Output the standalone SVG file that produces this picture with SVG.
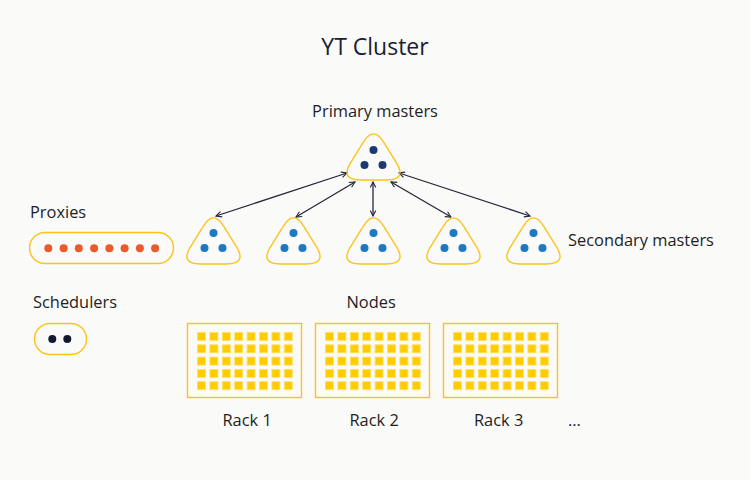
<svg xmlns="http://www.w3.org/2000/svg" xmlns:xlink="http://www.w3.org/1999/xlink" width="750" height="480" viewBox="0 0 750 480">
<style>
text{font-family:"Open Sans","Noto Sans",sans-serif;fill:#1e1e24;font-size:16.4px}
.title{font-size:23px;fill:#1b1d33}
.outline{fill:none;stroke:#fcc419;stroke-width:1.4}
.blue{fill:#1f78c4}
.navy{fill:#1d3a6e}
.orange{fill:#ec5a2a}
.black{fill:#141a2e}
.sq{fill:#ffcc00;stroke:#ffdf66;stroke-width:0.8}
.conn{stroke:#25273a;stroke-width:1.3;fill:none;marker-start:url(#ah);marker-end:url(#ah)}
</style>
<defs>
<marker id="ah" viewBox="0 0 10 10" refX="9" refY="5" markerWidth="7" markerHeight="7" markerUnits="userSpaceOnUse" orient="auto-start-reverse">
<path d="M1,1 L9,5 L1,9" fill="none" stroke="#25273a" stroke-width="1.6"/>
</marker>
<path id="tri" d="M-13,0 L13,0 Q33.5,0 23,-17.1 L10.6,-37.2 Q0,-55 -10.6,-37.2 L-23,-17.1 Q-33.5,0 -13,0 Z"/>
<g id="rack">
<rect class="outline" x="0" y="0" width="114" height="74"/>
<g class="sq">
<rect x="10" y="9" width="8" height="8"/><rect x="22.4" y="9" width="8" height="8"/><rect x="34.8" y="9" width="8" height="8"/><rect x="47.2" y="9" width="8" height="8"/><rect x="59.6" y="9" width="8" height="8"/><rect x="72" y="9" width="8" height="8"/><rect x="84.4" y="9" width="8" height="8"/><rect x="96.8" y="9" width="8" height="8"/>
<rect x="10" y="21.3" width="8" height="8"/><rect x="22.4" y="21.3" width="8" height="8"/><rect x="34.8" y="21.3" width="8" height="8"/><rect x="47.2" y="21.3" width="8" height="8"/><rect x="59.6" y="21.3" width="8" height="8"/><rect x="72" y="21.3" width="8" height="8"/><rect x="84.4" y="21.3" width="8" height="8"/><rect x="96.8" y="21.3" width="8" height="8"/>
<rect x="10" y="33.6" width="8" height="8"/><rect x="22.4" y="33.6" width="8" height="8"/><rect x="34.8" y="33.6" width="8" height="8"/><rect x="47.2" y="33.6" width="8" height="8"/><rect x="59.6" y="33.6" width="8" height="8"/><rect x="72" y="33.6" width="8" height="8"/><rect x="84.4" y="33.6" width="8" height="8"/><rect x="96.8" y="33.6" width="8" height="8"/>
<rect x="10" y="45.9" width="8" height="8"/><rect x="22.4" y="45.9" width="8" height="8"/><rect x="34.8" y="45.9" width="8" height="8"/><rect x="47.2" y="45.9" width="8" height="8"/><rect x="59.6" y="45.9" width="8" height="8"/><rect x="72" y="45.9" width="8" height="8"/><rect x="84.4" y="45.9" width="8" height="8"/><rect x="96.8" y="45.9" width="8" height="8"/>
<rect x="10" y="58.2" width="8" height="8"/><rect x="22.4" y="58.2" width="8" height="8"/><rect x="34.8" y="58.2" width="8" height="8"/><rect x="47.2" y="58.2" width="8" height="8"/><rect x="59.6" y="58.2" width="8" height="8"/><rect x="72" y="58.2" width="8" height="8"/><rect x="84.4" y="58.2" width="8" height="8"/><rect x="96.8" y="58.2" width="8" height="8"/>
</g>
</g>
<g id="sec">
<use href="#tri" class="outline"/>
<circle class="blue" cx="0" cy="-31" r="4"/>
<circle class="blue" cx="-9" cy="-16" r="4"/>
<circle class="blue" cx="9" cy="-16" r="4"/>
</g>
</defs>
<rect width="750" height="480" fill="#fafaf9"/>
<text class="title" x="375" y="54.5" text-anchor="middle">YT Cluster</text>

<g id="connectors">
<line class="conn" x1="347" y1="173" x2="216" y2="216"/>
<line class="conn" x1="355" y1="182" x2="296" y2="217"/>
<line class="conn" x1="373" y1="182" x2="373" y2="216"/>
<line class="conn" x1="391" y1="182" x2="451" y2="217"/>
<line class="conn" x1="399" y1="173" x2="530" y2="216"/>
</g>

<g id="primary-masters">
<text x="375" y="116.5" text-anchor="middle">Primary masters</text>
<g transform="translate(373.5,180)">
<use href="#tri" class="outline"/>
<circle class="navy" cx="0" cy="-30" r="4"/>
<circle class="navy" cx="-9" cy="-15" r="4"/>
<circle class="navy" cx="9" cy="-15" r="4"/>
</g>
</g>

<g id="secondary-masters">
<use href="#sec" x="213.5" y="264"/>
<use href="#sec" x="293.5" y="264"/>
<use href="#sec" x="373.5" y="264"/>
<use href="#sec" x="453.5" y="264"/>
<use href="#sec" x="533.5" y="264"/>
<text x="568" y="246">Secondary masters</text>
</g>

<g id="proxies">
<text x="30" y="217.7">Proxies</text>
<rect class="outline" x="29.5" y="232.5" width="144" height="31" rx="15.5"/>
<g class="orange">
<circle cx="48.3" cy="248.3" r="4"/><circle cx="63.6" cy="248.3" r="4"/><circle cx="78.8" cy="248.3" r="4"/><circle cx="94.1" cy="248.3" r="4"/><circle cx="109.4" cy="248.3" r="4"/><circle cx="124.6" cy="248.3" r="4"/><circle cx="139.9" cy="248.3" r="4"/><circle cx="155.1" cy="248.3" r="4"/>
</g>
</g>

<g id="schedulers">
<text x="33" y="307.7">Schedulers</text>
<rect class="outline" x="34.5" y="323.5" width="52" height="31" rx="15.5"/>
<circle class="black" cx="52.3" cy="339" r="4"/>
<circle class="black" cx="67.3" cy="339" r="4"/>
</g>

<g id="nodes">
<text x="346.5" y="308">Nodes</text>
</g>

<g id="rack-1">
<use href="#rack" x="187.5" y="323.5"/>
<text x="222.5" y="425.5">Rack 1</text>
</g>
<g id="rack-2">
<use href="#rack" x="315.5" y="323.5"/>
<text x="349.5" y="425.5">Rack 2</text>
</g>
<g id="rack-3">
<use href="#rack" x="443.5" y="323.5"/>
<text x="474" y="425.5">Rack 3</text>
</g>
<text x="568" y="425.5">...</text>
</svg>
